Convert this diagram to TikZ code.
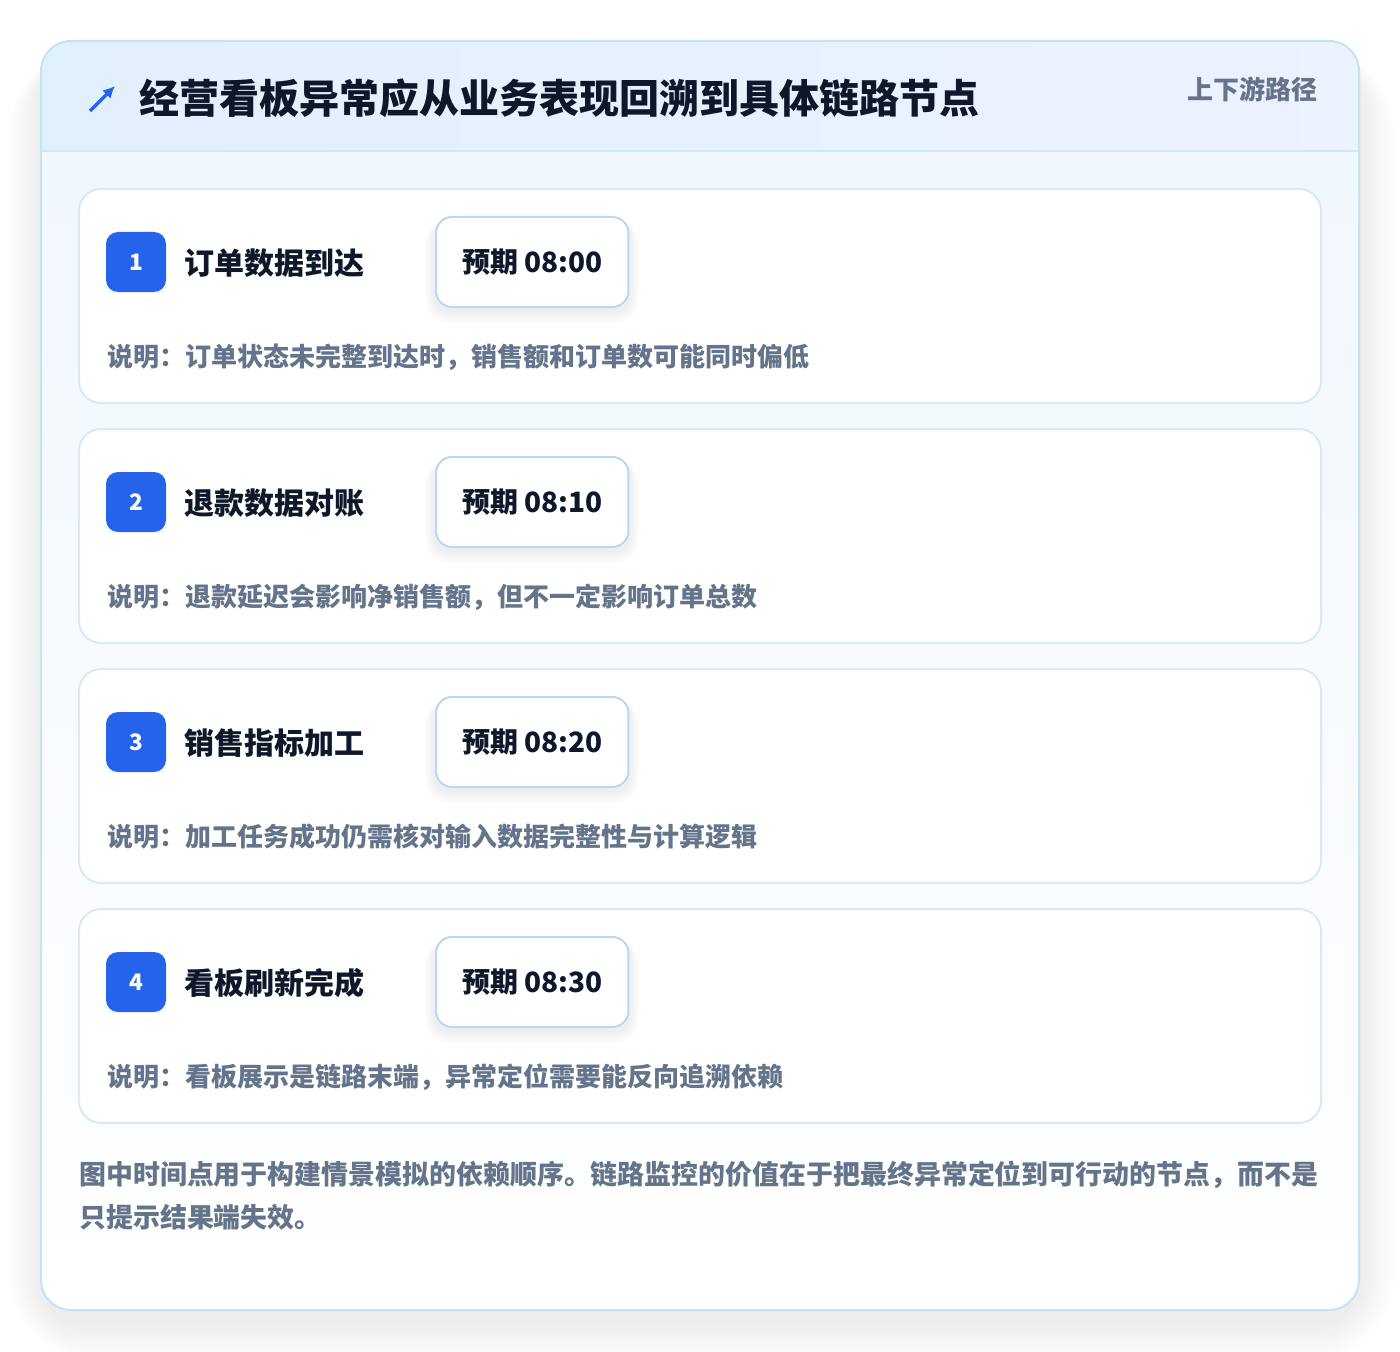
\documentclass[tikz,border=0pt]{standalone}
\usepackage{fontspec}
\setmainfont{Noto Sans CJK SC}
\usetikzlibrary{calc,arrows.meta}
\definecolor{cardborder}{HTML}{C4E3F6}
\definecolor{hdrA}{HTML}{E1F0FD}
\definecolor{hdrB}{HTML}{ECF2FE}
\definecolor{hdrline}{HTML}{D3E7F8}
\definecolor{bodytop}{HTML}{F1F7FE}
\definecolor{stepborder}{HTML}{D8E9F8}
\definecolor{badgeblue}{HTML}{2563EB}
\definecolor{titleink}{HTML}{0F172A}
\definecolor{mutedink}{HTML}{64748B}
\definecolor{timeborder}{HTML}{BDD6F2}
\tikzset{
  stepcard/.style={draw=stepborder, line width=1.5pt, fill=white, rounded corners=16.5pt},
  badge/.style={fill=badgeblue, rounded corners=9pt, minimum width=45pt, minimum height=45pt, inner sep=0pt, text=white, font=\bfseries\fontsize{17pt}{20pt}\selectfont},
  steptitle/.style={anchor=west, inner sep=0pt, text=titleink, font=\bfseries\fontsize{22.5pt}{27pt}\selectfont},
  timebox/.style={draw=timeborder, line width=1.5pt, fill=white, rounded corners=12pt, anchor=west, minimum height=67.5pt, inner xsep=19.5pt, text=titleink, font=\bfseries\fontsize{21pt}{24pt}\selectfont},
  notetext/.style={anchor=west, inner sep=0pt, text=mutedink, font=\bfseries\fontsize{19.5pt}{22pt}\selectfont},
  foottext/.style={anchor=west, inner sep=0pt, text=mutedink, font=\bfseries\fontsize{20.2pt}{24pt}\selectfont},
}
\begin{document}
\begin{tikzpicture}[x=0.75pt,y=-0.75pt]
\useasboundingbox (0,0) rectangle (1400,1352);
\fill[white] (0,0) rectangle (1400,1352);
% outer shadow
\foreach \i in {1,...,18}{
  \fill[black, opacity=0.0045, rounded corners=30+\i*2] (41-\i*1.8,41-\i*0.8+20) rectangle (1359+\i*2.0,1310+\i*2.2+12);
}
% outer card
\begin{scope}
  \clip[rounded corners=22.5pt] (41,41) rectangle (1359,1310);
  \shade[top color=bodytop, bottom color=white] (41,151) rectangle (1359,1310);
  \shade[left color=hdrA, right color=hdrB] (41,41) rectangle (1359,151);
  \draw[hdrline, line width=1.5pt] (41,151) -- (1359,151);
\end{scope}
\draw[cardborder, line width=1.5pt, rounded corners=22.5pt] (41,41) rectangle (1359,1310);
% header
\draw[badgeblue, line width=2.6pt, -{Latex[length=9pt,width=9pt]}] (90,111) -- (115,86);
\node[anchor=west, inner sep=0pt, text=titleink, font=\bfseries\fontsize{30pt}{36pt}\selectfont] (title) at (139,98) {经营看板异常应从业务表现回溯到具体链路节点};
\node[anchor=east, inner sep=0pt, text=mutedink, font=\bfseries\fontsize{19.5pt}{24pt}\selectfont] (tag) at (1318,89) {上下游路径};
% steps
\foreach \k/\ttl/\tm/\nt in {
  0/订单数据到达/08:00/说明：订单状态未完整到达时，销售额和订单数可能同时偏低,
  1/退款数据对账/08:10/说明：退款延迟会影响净销售额，但不一定影响订单总数,
  2/销售指标加工/08:20/说明：加工任务成功仍需核对输入数据完整性与计算逻辑,
  3/看板刷新完成/08:30/说明：看板展示是链路末端，异常定位需要能反向追溯依赖}{
  \pgfmathsetmacro{\yo}{189+240*\k}
  \pgfmathtruncatemacro{\num}{\k+1}
  \draw[stepcard] (79,\yo) rectangle (1321,\yo+214);
  \node[badge] (b\num) at (136,\yo+73) {\num};
  \node[steptitle] (t\num) at (184,\yo+74) {\ttl};
  \foreach \j in {1,...,8}{
    \fill[black, opacity=0.006, rounded corners=12pt+\j*0.8pt] (435-\j*1.3,\yo+28-\j*0.3+5) rectangle (435+\j*1.3+194,\yo+118+\j*1.5+5);
  }
  \node[timebox] (m\num) at (435,\yo+73) {预期 \tm};
  \node[notetext] (n\num) at (107,\yo+168) {\nt};
}
% footer
\node[foottext] (f1) at (79,1175) {图中时间点用于构建情景模拟的依赖顺序。链路监控的价值在于把最终异常定位到可行动的节点，而不是};
\node[foottext] (f2) at (79,1217) {只提示结果端失效。};
\end{tikzpicture}
\end{document}
